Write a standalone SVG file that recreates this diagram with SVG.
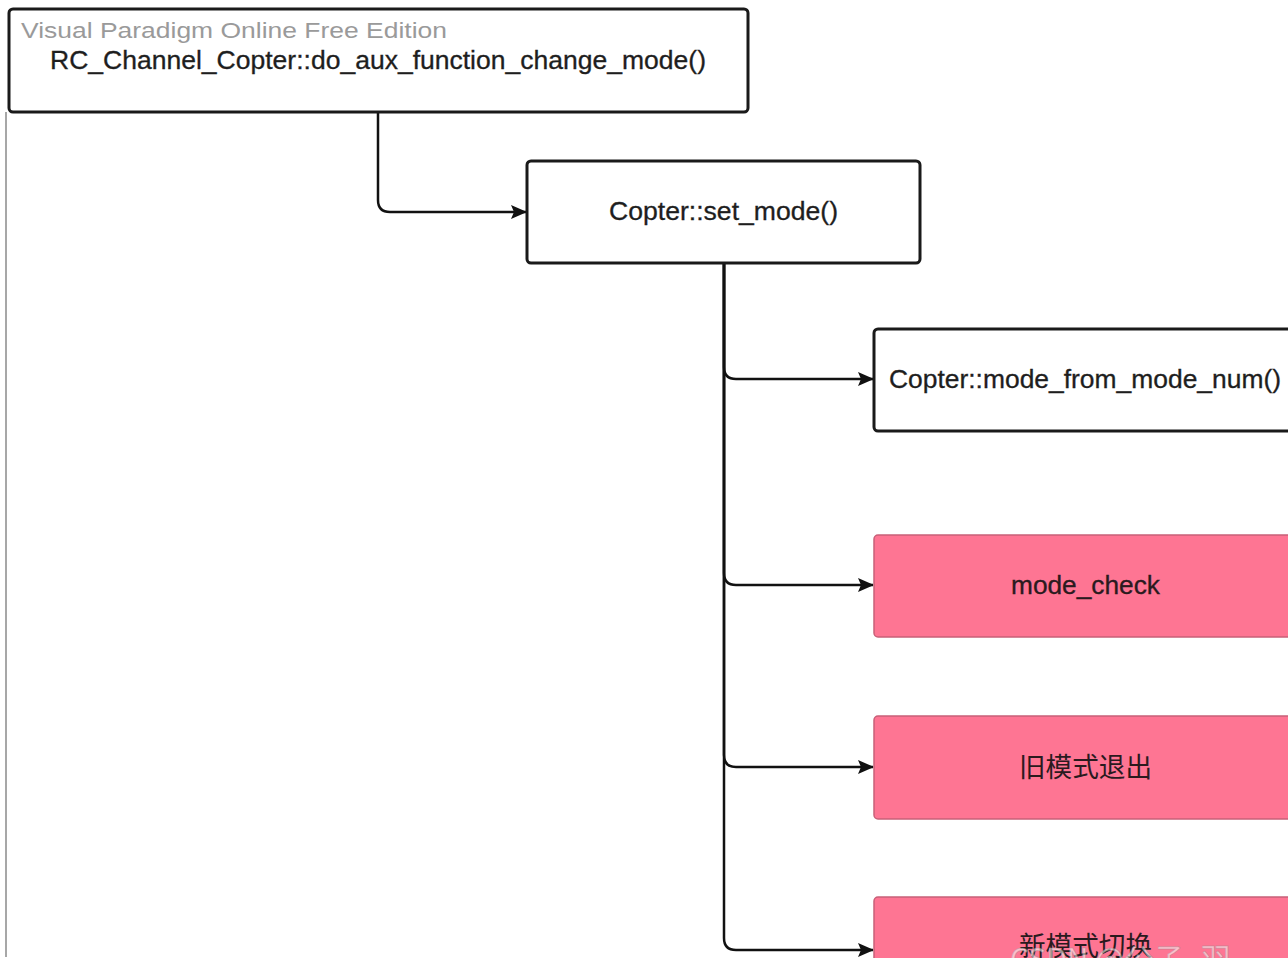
<svg xmlns="http://www.w3.org/2000/svg" width="1288" height="962" viewBox="0 0 1288 962">
<style>
.box{fill:#ffffff;stroke:#1a1a1a;stroke-width:3}
.pink{fill:#fe7593;stroke:#c86078;stroke-width:1.5}
.t{font-family:"Liberation Sans",Arial,sans-serif;font-size:25px;fill:#1e1e1e;stroke:#1e1e1e;stroke-width:0.3}
.cjk{font-family:"Noto Sans CJK SC","Liberation Sans",sans-serif;font-size:27px;fill:#2a1a1e}
.wm{font-family:"Liberation Sans",Arial,sans-serif;font-size:22px;fill:#9a9a9a}
.conn{fill:none;stroke:#111;stroke-width:2.5}
</style>
<defs>
<marker id="arr" markerWidth="16" markerHeight="14" refX="15" refY="7" orient="auto" markerUnits="userSpaceOnUse" viewBox="0 0 16 14">
<path d="M0,0 L16,7 L0,14 L3,7 Z" fill="#111"/>
</marker>
<clipPath id="clip"><rect x="0" y="0" width="1288" height="958"/></clipPath>
</defs>
<rect x="0" y="0" width="1288" height="962" fill="#ffffff"/>
<line x1="6" y1="112" x2="6" y2="957" stroke="#8a8a8a" stroke-width="1.5"/>
<g clip-path="url(#clip)">
<g id="connectors">
<path class="conn" d="M378,112 V200 Q378,212 390,212 H526" marker-end="url(#arr)"/>
<path class="conn" d="M724,263 V367 Q724,379 736,379 H873" marker-end="url(#arr)"/>
<path class="conn" d="M724,263 V573 Q724,585 736,585 H873" marker-end="url(#arr)"/>
<path class="conn" d="M724,263 V755 Q724,767 736,767 H873" marker-end="url(#arr)"/>
<path class="conn" d="M724,263 V938 Q724,950 736,950 H873" marker-end="url(#arr)"/>
</g>
<g id="node-top">
<rect class="box" x="9" y="9" width="739" height="103" rx="4"/>
<text class="wm" x="21" y="38" textLength="426" lengthAdjust="spacingAndGlyphs">Visual Paradigm Online Free Edition</text>
<text class="t" x="50" y="69" textLength="656" lengthAdjust="spacingAndGlyphs">RC_Channel_Copter::do_aux_function_change_mode()</text>
</g>
<g id="node-set-mode">
<rect class="box" x="527" y="161" width="393" height="102" rx="4"/>
<text class="t" x="609" y="220" textLength="229" lengthAdjust="spacingAndGlyphs">Copter::set_mode()</text>
</g>
<g id="node-mode-from-num">
<rect class="box" x="874" y="329" width="420" height="102" rx="4"/>
<text class="t" x="889" y="388" textLength="392" lengthAdjust="spacingAndGlyphs">Copter::mode_from_mode_num()</text>
</g>
<g id="node-mode-check">
<rect class="pink" x="874" y="535" width="420" height="102" rx="4"/>
<text class="t" x="1011" y="594" textLength="149" lengthAdjust="spacingAndGlyphs" style="fill:#2a1a1e;stroke:#2a1a1e">mode_check</text>
</g>
<g id="node-old-exit">
<rect class="pink" x="874" y="716" width="420" height="103" rx="4"/>
<text class="cjk" x="1019" y="777" textLength="133" lengthAdjust="spacingAndGlyphs">旧模式退出</text>
</g>
<g id="node-new-switch">
<rect class="pink" x="874" y="897" width="420" height="103" rx="4"/>
<text class="cjk" x="1019" y="956" textLength="133" lengthAdjust="spacingAndGlyphs">新模式切换</text>
</g>
<text x="1010" y="970" font-family="Noto Sans CJK SC,Liberation Sans,sans-serif" font-size="30" fill="#ffffff" fill-opacity="0.55" stroke="#888" stroke-opacity="0.35" stroke-width="1">CSDN @公子_羽</text>
</g>
</svg>
